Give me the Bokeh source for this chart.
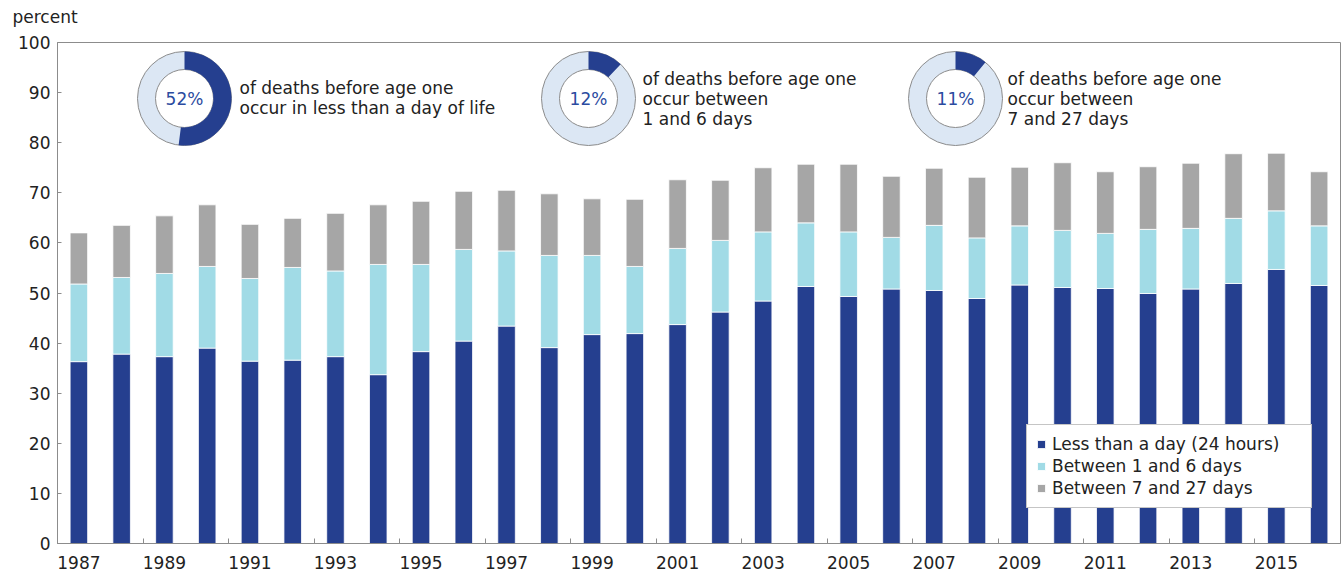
import math
from bokeh.plotting import figure
from bokeh.models import Range1d, FixedTicker, Label
from bokeh.embed import file_html
from bokeh.resources import INLINE

# ---------------- data ----------------
years = list(range(1987, 2017))
less_than_day = [36.3, 37.8, 37.3, 39.0, 36.4, 36.6, 37.3, 33.7, 38.3, 40.4,
                 43.4, 39.1, 41.7, 41.9, 43.7, 46.2, 48.4, 51.3, 49.3, 50.8,
                 50.5, 48.9, 51.6, 51.1, 50.9, 49.9, 50.8, 51.9, 54.7, 51.5]
days_1_6 = [15.5, 15.3, 16.6, 16.3, 16.5, 18.5, 17.1, 22.0, 17.4, 18.3,
            15.0, 18.4, 15.8, 13.4, 15.2, 14.3, 13.8, 12.7, 12.9, 10.3,
            13.0, 12.1, 11.8, 11.4, 11.0, 12.8, 12.1, 13.0, 11.7, 11.9]
days_7_27 = [10.2, 10.4, 11.5, 12.3, 10.8, 9.8, 11.5, 11.9, 12.6, 11.6,
             12.1, 12.3, 11.3, 13.4, 13.7, 12.0, 12.8, 11.7, 13.5, 12.2,
             11.4, 12.1, 11.7, 13.5, 12.3, 12.5, 13.0, 12.9, 11.5, 10.8]
series_labels = ["Less than a day (24 hours)", "Between 1 and 6 days",
                 "Between 7 and 27 days"]
donut_pcts = [52, 12, 11]
donut_texts = [["of deaths before age one", "occur in less than a day of life"],
               ["of deaths before age one", "occur between", "1 and 6 days"],
               ["of deaths before age one", "occur between", "7 and 27 days"]]
y_ticks = list(range(0, 101, 10))
x_label_years = years[::2]
y_axis_title = "percent"

# ---------------- layout / style ----------------
W, H = 1342, 575
BL, BR, BT, BB = 57, 2, 42, 32
FW, FH = W - BL - BR, H - BT - BB
X0, X1 = years[0] - 0.5, years[-1] + 0.5
Y0, Y1 = 0, 100
FONT = "DejaVu Sans"
FS = "17px"
TXT = "#222222"
GRAY = "#8C8C8C"
colors = ["#253F8F", "#A1DBE6", "#A6A6A6"]
donut_light = "#DCE7F4"
pct_color = "#2B4BA0"
# donut centres (px from frame left, px from frame top), radii
donut_centers = [(127, 56), (531, 56), (898, 56)]
R_OUT, R_IN = 47, 29
# text blocks: (x px from frame left, y px of first line from frame top)
text_pos = [(182, 45), (585, 36), (950, 36)]
LINE_SP = 20


def to_data_x(px):
    return X0 + px / FW * (X1 - X0)


def to_data_y(py_from_top):
    return Y1 - py_from_top / FH * (Y1 - Y0)


p = figure(width=W, height=H, output_backend="svg", toolbar_location=None,
           x_range=Range1d(X0, X1), y_range=Range1d(Y0, Y1),
           min_border_left=BL, min_border_right=BR, min_border_top=BT,
           min_border_bottom=BB)
p.xgrid.visible = False
p.ygrid.visible = False
p.outline_line_color = GRAY
p.outline_line_width = 1
p.background_fill_color = "white"
p.border_fill_color = "white"

# "percent" title above the y axis (a blank second line lifts it)
p.title.text = y_axis_title + "\n "
p.title.align = "left"
p.title.offset = -45
p.title.standoff = 0
p.title.text_line_height = 0.8
p.title.text_font = FONT
p.title.text_font_size = FS
p.title.text_font_style = "normal"
p.title.text_color = TXT

data = dict(year=years, a=less_than_day, b=days_1_6, c=days_7_27)
p.vbar_stack(["a", "b", "c"], x="year", width=0.41, source=data,
             color=colors, line_color="white", line_width=0.8,
             legend_label=series_labels)

# axes
xa = p.xaxis[0]
xa.ticker = FixedTicker(ticks=x_label_years,
                        minor_ticks=[y - 0.5 for y in x_label_years])
xa.major_tick_in = 0
xa.major_tick_out = 0
xa.minor_tick_in = 5
xa.minor_tick_out = 0
xa.minor_tick_line_color = GRAY
xa.axis_line_color = GRAY
xa.major_label_text_font = FONT
xa.major_label_text_font_size = FS
xa.major_label_text_color = TXT
xa.major_label_standoff = 12

ya = p.yaxis[0]
ya.ticker = FixedTicker(ticks=y_ticks)
ya.major_tick_in = 4
ya.major_tick_out = 0
ya.minor_tick_in = 0
ya.minor_tick_out = 0
ya.major_tick_line_color = GRAY
ya.axis_line_color = GRAY
ya.major_label_text_font = FONT
ya.major_label_text_font_size = FS
ya.major_label_text_color = TXT
ya.major_label_standoff = 7

# donuts
for (cx, cy), pct in zip(donut_centers, donut_pcts):
    dx, dy = to_data_x(cx), to_data_y(cy)
    p.annulus(x=[dx], y=[dy], inner_radius=R_IN, outer_radius=R_OUT,
              inner_radius_units="screen", outer_radius_units="screen",
              fill_color=donut_light, line_color=GRAY, line_width=1)
    p.annular_wedge(x=[dx], y=[dy], inner_radius=R_IN, outer_radius=R_OUT,
                    inner_radius_units="screen", outer_radius_units="screen",
                    start_angle=math.pi / 2,
                    end_angle=math.pi / 2 - 2 * math.pi * pct / 100,
                    direction="clock", fill_color=colors[0], line_color=None)
    p.add_layout(Label(x=cx, y=FH - cy, x_units="screen", y_units="screen",
                       text=f"{pct}%", text_align="center",
                       text_baseline="middle", text_font=FONT,
                       text_font_size=FS, text_color=pct_color))

for (tx, ty), lines in zip(text_pos, donut_texts):
    for i, line in enumerate(lines):
        p.add_layout(Label(x=tx, y=FH - (ty + i * LINE_SP), x_units="screen",
                           y_units="screen", text=line, text_align="left",
                           text_baseline="middle", text_font=FONT,
                           text_font_size=FS, text_color=TXT))

# legend
lg = p.legend[0]
lg.location = (969, 35)
lg.label_text_font = FONT
lg.label_text_font_size = FS
lg.label_text_color = TXT
lg.glyph_width = 10
lg.glyph_height = 10
lg.label_height = 20
lg.label_standoff = 6
lg.spacing = 2
lg.padding = 9
lg.label_width = 250
lg.border_line_color = GRAY
lg.border_line_width = 1
lg.background_fill_color = "white"
lg.background_fill_alpha = 1
lg.margin = 0

open("out.html", "w").write(file_html(p, INLINE))
